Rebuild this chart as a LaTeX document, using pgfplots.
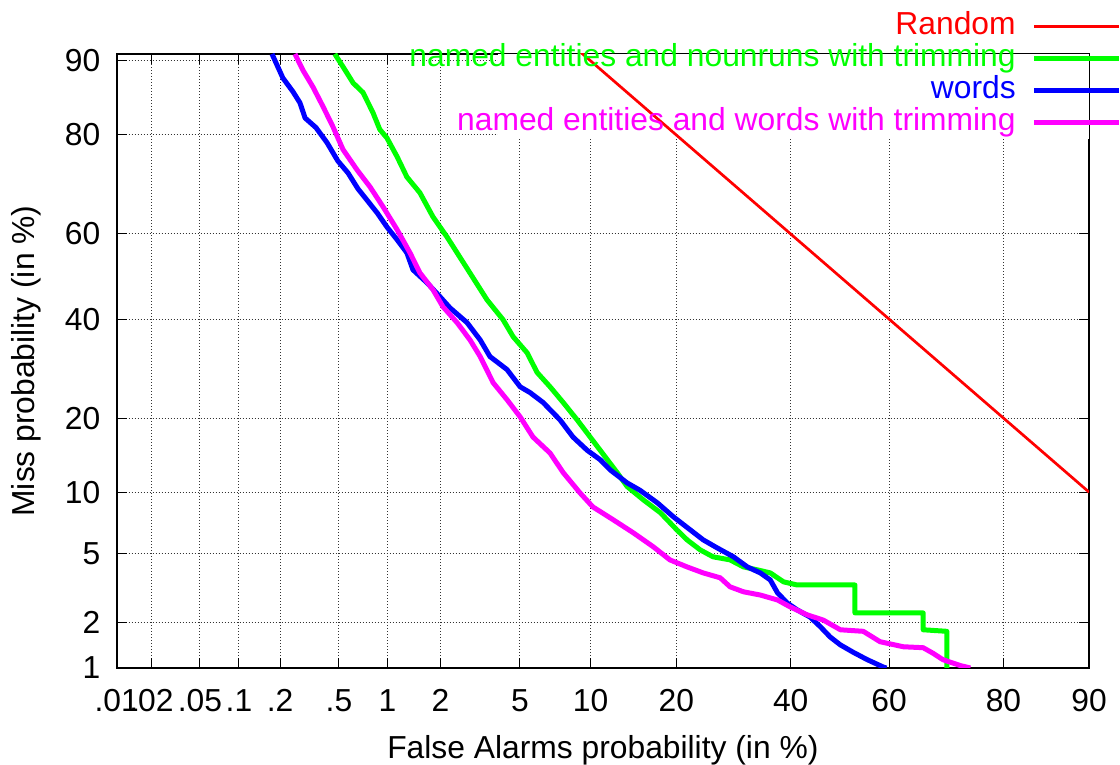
\documentclass[border=0pt]{standalone}
\usepackage{fontspec}
\setmainfont{Liberation Sans}
\usepackage{pgfplots}
\usepackage{pgfplotstable}
\pgfplotsset{compat=1.18}

\definecolor{gpred}{RGB}{255,0,0}
\definecolor{gpgreen}{RGB}{0,255,0}
\definecolor{gpblue}{RGB}{0,0,255}
\definecolor{gpmagenta}{RGB}{255,0,255}

\newcommand\cf{\fontsize{15.9}{18}\selectfont}

% normal deviate of a percentage (Abramowitz-Stegun 26.2.23), with l3fp
\newcommand\probitfp[1]{%
  \fpeval{round(
    (#1<50 ? -1 : 1) * (
      sqrt(-2*ln(min(#1,100-#1)/100))
      - (2.515517 + 0.802853*sqrt(-2*ln(min(#1,100-#1)/100))
         + 0.010328*(-2*ln(min(#1,100-#1)/100)))
      / (1 + 1.432788*sqrt(-2*ln(min(#1,100-#1)/100))
         + 0.189269*(-2*ln(min(#1,100-#1)/100))
         + 0.001308*(-2*ln(min(#1,100-#1)/100))^1.5)
    ), 6)}}

% adds columns zx, zy (normal deviates) to a table of percentages
\newcommand\addprobit[1]{%
  \pgfplotstablecreatecol[create col/assign/.code={%
    \getthisrow{x}{\pbx}%
    \edef\pbentry{\probitfp{\pbx}}%
    \pgfkeyslet{/pgfplots/table/create col/next content}\pbentry}]{zx}{#1}%
  \pgfplotstablecreatecol[create col/assign/.code={%
    \getthisrow{y}{\pby}%
    \edef\pbentry{\probitfp{\pby}}%
    \pgfkeyslet{/pgfplots/table/create col/next content}\pbentry}]{zy}{#1}}

% false alarm (%) and miss (%) values
\pgfplotstableread{
x y
9 91
90 10
}\tabR

\pgfplotstableread{
x y
0.47 90.7
0.53 89.4
0.616 87.5
0.71 86.3
0.818 83.5
0.90 80.9
0.993 79.5
1.14 76.2
1.30 72.3
1.54 69.1
1.82 63.9
2.17 59.3
2.73 52.3
3.48 44.5
4.16 39.9
4.65 36.0
5.39 32.5
5.98 28.4
6.81 25.6
7.74 22.7
8.84 19.7
9.96 17.0
11.6 13.8
12.6 12.2
13.7 10.6
15.6 9.23
17.8 8.02
20.1 6.60
21.6 5.88
23.6 5.22
25.7 4.79
28.6 4.61
31.0 4.22
33.5 4.07
36.0 3.91
38.6 3.48
41.3 3.34
53.1 3.34
53.1 2.28
66.6 2.28
66.6 1.79
70.9 1.75
70.9 1.0
}\tabG

\pgfplotstableread{
x y
0.175 90.7
0.209 88.1
0.246 86.4
0.275 84.9
0.298 82.7
0.353 81.2
0.418 78.7
0.492 75.4
0.572 73.1
0.661 69.9
0.866 64.8
0.993 61.6
1.139 58.7
1.30 55.6
1.408 51.6
1.69 48.5
1.99 45.2
2.25 42.6
2.76 39.2
3.22 35.3
3.60 31.7
4.35 29.0
5.01 25.6
5.56 24.5
6.35 22.7
7.51 19.7
8.50 17.0
9.68 15.1
10.9 13.8
11.9 12.5
13.7 11.0
15.2 10.2
17.4 8.93
19.6 7.66
22.1 6.60
24.1 5.88
26.4 5.34
29.2 4.79
31.7 4.22
34.1 3.91
36.0 3.57
37.4 3.01
39.3 2.62
41.3 2.38
43.9 2.15
46.0 1.87
48.0 1.61
50.1 1.43
52.7 1.28
55.6 1.14
59.0 1.01
59.5 1.0
}\tabB

\pgfplotstableread{
x y
0.254 90.7
0.288 89.0
0.337 87.0
0.393 84.4
0.458 81.3
0.531 77.5
0.652 73.7
0.785 70.3
0.941 66.1
1.14 61.0
1.355 55.6
1.54 50.9
1.82 46.9
2.06 42.9
2.45 39.2
2.86 35.3
3.22 31.7
3.73 26.4
4.35 23.2
5.01 20.2
5.73 17.0
6.81 14.7
7.74 12.2
9.07 9.93
10.2 8.55
12.2 7.41
14.4 6.39
16.9 5.40
19.1 4.61
21.6 4.22
24.1 3.91
26.9 3.67
28.6 3.26
31.0 3.05
34.1 2.92
37.4 2.73
39.9 2.48
43.3 2.22
46.6 2.06
50.1 1.79
54.8 1.75
58.2 1.50
62.8 1.39
66.6 1.37
68.4 1.26
70.2 1.14
73.2 1.04
74.9 1.0
}\tabM

\addprobit{\tabR}
\addprobit{\tabG}
\addprobit{\tabB}
\addprobit{\tabM}

% lower left corner of the key's white box
\edef\kbx{\probitfp{3.94}}
\edef\kby{\probitfp{79.4}}

\begin{document}
\begin{tikzpicture}
\begin{axis}[
  set layers,
  scale only axis, width=486.2pt, height=307pt,
  xmin/.expanded={\probitfp{0.01}}, xmax/.expanded={\probitfp{90}},
  ymin/.expanded={\probitfp{1}}, ymax/.expanded={\probitfp{90.7}},
  xtick/.expanded={\probitfp{0.01},\probitfp{0.02},\probitfp{0.05},\probitfp{0.1},
    \probitfp{0.2},\probitfp{0.5},\probitfp{1},\probitfp{2},\probitfp{5},\probitfp{10},
    \probitfp{20},\probitfp{40},\probitfp{60},\probitfp{80},\probitfp{90}},
  xticklabels={.01,.02,.05,.1,.2,.5,1,2,5,10,20,40,60,80,90},
  ytick/.expanded={\probitfp{1},\probitfp{2},\probitfp{5},\probitfp{10},\probitfp{20},
    \probitfp{40},\probitfp{60},\probitfp{80},\probitfp{90}},
  yticklabels={1,2,5,10,20,40,60,80,90},
  grid=major,
  major grid style={black!80, line width=0.5pt, densely dotted},
  tick align=inside, major tick length=5pt,
  every tick/.style={black, line width=0.5pt},
  axis line style={black, line width=1pt},
  tick label style={font=\cf},
  xticklabel style={anchor=north, inner sep=0pt, yshift=-10.5pt},
  yticklabel style={anchor=east, inner sep=0pt, xshift=-8pt},
  xlabel={False Alarms probability (in \%)},
  ylabel={Miss probability (in \%)},
  label style={font=\cf},
  xlabel style={at={(axis description cs:0.5,-0.148)}, anchor=base},
  ylabel style={at={(axis description cs:-0.085,0.5)}, anchor=base},
  legend plot pos=right,
  legend cell align=right,
  legend image code/.code={\draw[#1] (0pt,0pt) -- (42.5pt,0pt);},
  legend style={draw=none, fill=none, at={(1,1)}, anchor=north east,
    xshift=16.5pt, yshift=21pt, inner sep=0pt, row sep=2pt, column sep=8pt,
    font=\cf, nodes={inner sep=0pt, text height=11pt, text depth=3pt}},
]
\fill[white, on layer=axis ticks] (axis cs:\kbx,\kby) rectangle (rel axis cs:1,1);

\addplot[gpred, line width=1.35pt] table[x=zx, y=zy] {\tabR};
\addlegendentry[text=gpred]{Random}

\addplot[gpgreen, line width=2.5pt, line join=round] table[x=zx, y=zy] {\tabG};
\addlegendentry[text=gpgreen]{named entities and nounruns with trimming}

\addplot[gpblue, line width=2.5pt, line join=round] table[x=zx, y=zy] {\tabB};
\addlegendentry[text=gpblue]{words}

\addplot[gpmagenta, line width=2.5pt, line join=round] table[x=zx, y=zy] {\tabM};
\addlegendentry[text=gpmagenta]{named entities and words with trimming}
\end{axis}
\pgfresetboundingbox
\path[use as bounding box] (-58.35pt,-48.5pt) rectangle (501.65pt,334pt);
\end{tikzpicture}
\end{document}
